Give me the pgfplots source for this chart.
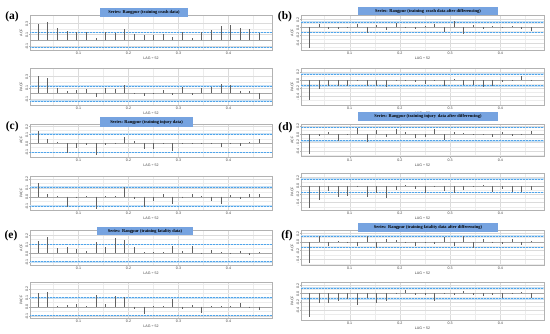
\documentclass[border=0pt]{standalone}
\usepackage{pgfplots}
\pgfplotsset{compat=1.18}
\usepackage{pgfplotstable}
\usepackage{fontspec}
\setmainfont{Liberation Serif}
\newfontfamily\sansf{Liberation Sans}
\definecolor{bandblue}{RGB}{80,165,235}
\definecolor{bandhalo}{RGB}{200,225,245}
\definecolor{titleblue}{RGB}{118,163,224}
\newcommand\tickfont{\sansf\fontsize{3.6}{4}\selectfont}
\newcommand\titlefont{\bfseries\fontsize{4.4}{5}\selectfont}
\newcommand\panelfont{\bfseries\fontsize{11.5}{12}\selectfont}

\pgfplotstableread{
lag acf pacf
0.0192 0.28 0.30
0.0385 0.31 0.26
0.0577 0.21 0.09
0.0769 0.16 0.04
0.0962 0.15 0.06
0.1154 0.135 0.07
0.1346 0.04 -0.065
0.1538 0.135 0.09
0.1731 0.13 0.08
0.1923 0.19 0.14
0.2115 0.11 -0.01
0.2308 0.08 -0.04
0.2500 0.08 0.005
0.2692 0.11 0.06
0.2885 0.05 -0.02
0.3077 0.15 0.11
0.3269 0.04 -0.02
0.3462 0.15 0.09
0.3654 0.18 0.12
0.3846 0.25 0.16
0.4038 0.26 0.15
0.4231 0.22 0.04
0.4423 0.19 0.035
0.4615 0.12 -0.09
}\tabA

\pgfplotstableread{
lag acf pacf
0.0192 -0.51 -0.50
0.0385 0.08 -0.23
0.0577 -0.03 -0.15
0.0769 -0.03 -0.155
0.0962 -0.01 -0.14
0.1154 0.075 -0.02
0.1346 -0.15 -0.155
0.1538 0.07 -0.15
0.1731 -0.07 -0.17
0.1923 0.12 -0.015
0.2115 -0.025 0.01
0.2308 -0.03 -0.05
0.2500 0.03 -0.09
0.2692 0.075 -0.01
0.2885 -0.125 -0.15
0.3077 0.15 0.015
0.3269 -0.17 -0.13
0.3462 0.07 -0.13
0.3654 -0.03 -0.18
0.3846 0.03 -0.15
0.4038 -0.02 -0.05
0.4231 0.03 -0.03
0.4423 -0.03 0.10
0.4615 -0.08 -0.03
}\tabB

\pgfplotstableread{
lag acf pacf
0.0192 0.14 0.155
0.0385 0.046 0.025
0.0577 0.01 0.005
0.0769 -0.11 -0.11
0.0962 -0.06 -0.02
0.1154 -0.025 0.01
0.1346 -0.13 -0.135
0.1538 -0.02 0.01
0.1731 -0.01 0.003
0.1923 0.07 0.105
0.2115 0.03 -0.03
0.2308 -0.07 -0.11
0.2500 -0.07 -0.045
0.2692 -0.005 0.03
0.2885 -0.085 -0.08
0.3077 0.005 -0.02
0.3269 0.005 0.025
0.3462 -0.01 0.005
0.3654 -0.005 -0.045
0.3846 -0.045 -0.085
0.4038 0.003 0.015
0.4231 -0.03 -0.025
0.4423 0.015 0.035
0.4615 0.055 0.035
}\tabC

\pgfplotstableread{
lag acf pacf
0.0192 -0.48 -0.52
0.0385 -0.04 -0.34
0.0577 0.055 -0.135
0.0769 -0.16 -0.27
0.0962 -0.01 -0.25
0.1154 0.135 -0.04
0.1346 -0.2 -0.26
0.1538 0.095 -0.175
0.1731 -0.08 -0.3
0.1923 0.13 -0.095
0.2115 0.055 0.025
0.2308 -0.095 -0.08
0.2500 -0.065 -0.175
0.2692 0.13 -0.005
0.2885 -0.13 -0.12
0.3077 0.04 -0.175
0.3269 0.03 -0.11
0.3462 -0.01 -0.02
0.3654 0.01 0.02
0.3846 -0.065 -0.145
0.4038 0.05 -0.07
0.4231 -0.05 -0.16
0.4423 0.005 -0.145
0.4615 0.065 -0.095
}\tabD

\pgfplotstableread{
lag acf pacf
0.0192 0.137 0.148
0.0385 0.174 0.167
0.0577 0.06 0.005
0.0769 0.063 0.018
0.0962 0.045 0.026
0.1154 0.026 0.003
0.1346 0.126 0.13
0.1538 0.067 0.03
0.1731 0.163 0.118
0.1923 0.144 0.107
0.2115 0.07 -0.026
0.2308 0.007 -0.085
0.2500 0.01 0.003
0.2692 0.01 0.003
0.2885 0.078 0.089
0.3077 0.022 -0.03
0.3269 0.074 0.015
0.3462 -0.015 -0.074
0.3654 0.03 0.005
0.3846 0.015 0.003
0.4038 0.003 0.008
0.4231 0.022 0.044
0.4423 -0.018 -0.018
0.4615 0.011 -0.037
}\tabE

\pgfplotstableread{
lag acf pacf
0.0192 -0.48 -0.56
0.0385 0.13 -0.24
0.0577 -0.09 -0.22
0.0769 0.01 -0.18
0.0962 0.003 -0.14
0.1154 -0.09 -0.27
0.1346 0.135 -0.12
0.1538 -0.13 -0.22
0.1731 0.075 -0.18
0.1923 0.04 -0.01
0.2115 0.005 0.08
0.2308 -0.09 -0.05
0.2500 0.005 -0.05
0.2692 -0.06 -0.18
0.2885 0.115 0.015
0.3077 -0.09 -0.05
0.3269 0.13 0.065
0.3462 -0.13 -0.05
0.3654 0.06 -0.055
0.3846 0.005 -0.05
0.4038 -0.04 -0.1
0.4231 0.06 0.005
0.4423 -0.07 0.03
0.4615 0.025 -0.105
}\tabF

\pgfplotsset{
  astsa/.style={
    scale only axis,
    anchor=north west,
    xmin=0.003, xmax=0.487,
    xtick={0.1,0.2,0.3,0.4},
    minor xtick={0.05,0.15,0.25,0.35,0.45},
    grid=both,
    major grid style={line width=0.3pt, draw=gray!28},
    minor grid style={line width=0.25pt, draw=gray!15},
    axis line style={draw=gray!60, line width=0.4pt},
    tick style={draw=gray!60, line width=0.3pt},
    major tick length=1pt, minor tick length=0pt,
    tick align=outside,
    xtick pos=bottom, ytick pos=left,
    ticklabel style={font=\tickfont, text=black!75, inner sep=0.6pt},
    yticklabel style={rotate=90, anchor=south, xshift=-0.6pt},
    /pgf/number format/.cd, fixed, fixed zerofill, precision=1, assume math mode=true,
    /pgfplots/.cd,
    xlabel={LAG ÷ 52},
    xlabel style={font=\tickfont, text=black!75, inner sep=0.5pt, yshift=-1.5pt},
    ylabel style={font=\tickfont, text=black!75, inner sep=0.5pt, yshift=2pt},
  },
  lefty/.style={ytick={-0.1,0,0.1,0.2,0.3}, minor ytick={-0.05,0.05,0.15,0.25,0.35}},
  righty/.style={ytick={-0.4,-0.2,0,0.2}, minor ytick={-0.5,-0.3,-0.1,0.1}},
}

\newcommand{\panel}[4]{%
\begin{axis}[astsa,#1]
\addplot[draw=bandhalo, line width=1.6pt] coordinates {(0,#4) (0.5,#4)};
\addplot[draw=bandhalo, line width=1.6pt] coordinates {(0,-#4) (0.5,-#4)};
\addplot[draw=bandblue, line width=0.6pt, dash pattern=on 0.9pt off 0.6pt] coordinates {(0,#4) (0.5,#4)};
\addplot[draw=bandblue, line width=0.6pt, dash pattern=on 0.9pt off 0.6pt] coordinates {(0,-#4) (0.5,-#4)};
\addplot[draw=gray!70, line width=0.35pt] coordinates {(0,0) (0.5,0)};
\addplot[ycomb, draw=black!62, line width=0.6pt, mark=none] table[x=lag, y=#3] {#2};
\end{axis}}

\begin{document}
\begin{tikzpicture}
\useasboundingbox (0,0) rectangle (550pt,-333pt);
% left column
\panel{at={(30pt,-15pt)},width=242pt,height=35pt,ymin=-0.175,ymax=0.44,ytick={-0.1,0.1,0.3},minor ytick={0,0.2},ylabel={ACF}}{\tabA}{acf}{0.13}
\panel{at={(30pt,-68pt)},width=242pt,height=37pt,ymin=-0.2,ymax=0.44,ytick={-0.1,0.1,0.3},minor ytick={0,0.2},ylabel={PACF}}{\tabA}{pacf}{0.13}
\panel{at={(30pt,-124pt)},width=242pt,height=32.7pt,ymin=-0.155,ymax=0.223,lefty,ylabel={ACF}}{\tabC}{acf}{0.105}
\panel{at={(30pt,-176pt)},width=242pt,height=34pt,ymin=-0.148,ymax=0.23,lefty,ylabel={PACF}}{\tabC}{pacf}{0.105}
\panel{at={(30pt,-230pt)},width=242pt,height=35pt,ymin=-0.133,ymax=0.256,lefty,ylabel={ACF}}{\tabE}{acf}{0.097}
\panel{at={(30pt,-281.7pt)},width=242pt,height=36.6pt,ymin=-0.129,ymax=0.278,lefty,ylabel={PACF}}{\tabE}{pacf}{0.1}
% right column
\panel{at={(301pt,-15pt)},width=243pt,height=35pt,ymin=-0.57,ymax=0.31,righty,ylabel={ACF}}{\tabB}{acf}{0.13}
\panel{at={(301pt,-68.3pt)},width=243pt,height=36.7pt,ymin=-0.61,ymax=0.285,righty,ylabel={PACF}}{\tabB}{pacf}{0.14}
\panel{at={(301pt,-124pt)},width=243pt,height=32.7pt,ymin=-0.54,ymax=0.24,righty,ylabel={ACF}}{\tabD}{acf}{0.16}
\panel{at={(301pt,-173.3pt)},width=243pt,height=36.7pt,ymin=-0.58,ymax=0.30,righty,ylabel={PACF}}{\tabD}{pacf}{0.16}
\panel{at={(301pt,-230pt)},width=243pt,height=35pt,ymin=-0.53,ymax=0.27,righty,ylabel={ACF}}{\tabF}{acf}{0.13}
\panel{at={(301pt,-281.7pt)},width=243pt,height=38.3pt,ymin=-0.64,ymax=0.28,righty,ylabel={PACF}}{\tabF}{pacf}{0.13}
% title boxes
\tikzset{tbox/.style={fill=titleblue, inner sep=0pt, font=\titlefont, text=black}}
\node[tbox, minimum width=88pt, minimum height=8.4pt] at (144pt,-12.5pt) {Series: Rangpur (training crash data)};
\node[tbox, minimum width=140pt, minimum height=8.2pt] at (428pt,-11pt) {Series: Rangpur (training\, crash data after differencing)};
\node[tbox, minimum width=93pt, minimum height=9.2pt] at (146.5pt,-122pt) {Series: Rangpur (training injury data)};
\node[tbox, minimum width=140pt, minimum height=9pt] at (428pt,-116.5pt) {Series: Rangpur (training injury\, data after differencing)};
\node[tbox, minimum width=96pt, minimum height=8.4pt] at (145pt,-231pt) {Series: Rangpur (training fatality data)};
\node[tbox, minimum width=140pt, minimum height=8.4pt] at (428pt,-227.5pt) {Series: Rangpur (training fatality data after differencing)};
% panel letters
\node[font=\panelfont, inner sep=0pt] at (12pt,-16.7pt) {(a)};
\node[font=\panelfont, inner sep=0pt] at (285pt,-16.7pt) {(b)};
\node[font=\panelfont, inner sep=0pt] at (12.3pt,-126.7pt) {(c)};
\node[font=\panelfont, inner sep=0pt] at (285.5pt,-127.5pt) {(d)};
\node[font=\panelfont, inner sep=0pt] at (11pt,-236pt) {(e)};
\node[font=\panelfont, inner sep=0pt] at (287pt,-236pt) {(f)};
\end{tikzpicture}
\end{document}
